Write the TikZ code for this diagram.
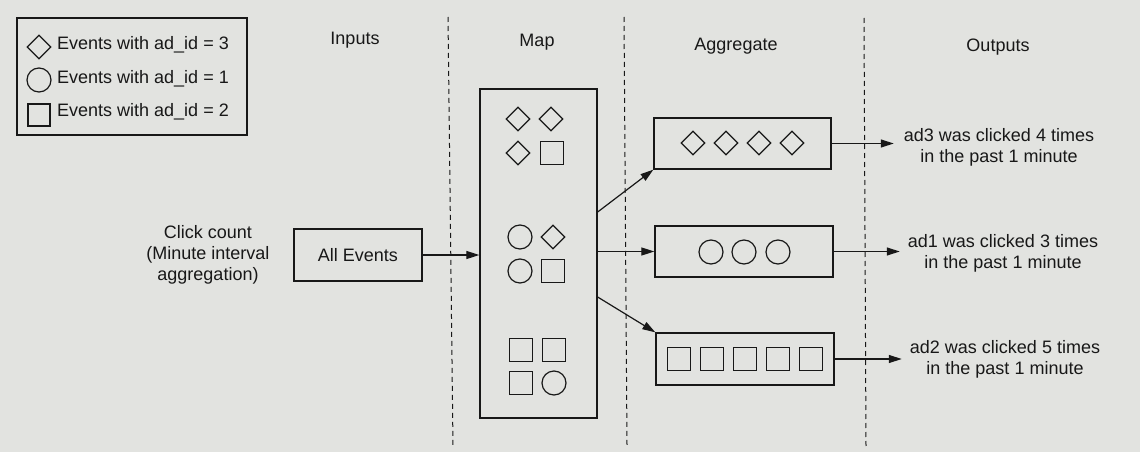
\documentclass[tikz,border=0pt]{standalone}
\usepackage{fontspec}
\setmainfont{Liberation Sans}
\usetikzlibrary{shapes.geometric,arrows.meta}
\definecolor{paper}{RGB}{226,227,224}
\definecolor{ink}{RGB}{24,24,24}
\begin{document}
\begin{tikzpicture}[x=1pt,y=-1pt,
  every node/.style={font=\fontsize{18}{21}\selectfont, text=ink},
  dia/.style={draw=ink, diamond, minimum width=24pt, minimum height=24pt, inner sep=0pt, line width=1.2pt},
  circ/.style={draw=ink, circle, minimum size=24pt, inner sep=0pt, line width=1.2pt},
  sq/.style={draw=ink, rectangle, minimum size=23pt, inner sep=0pt, line width=1.2pt},
  box/.style={draw=ink, rectangle, line width=1.3pt, inner sep=0pt},
  arr/.style={draw=ink, line width=1.2pt, -{Triangle[length=13pt,width=8pt]}},
  sep/.style={draw=ink, line width=1pt, dash pattern=on 5pt off 4pt},
  lbl/.style={align=center, inner sep=0pt}
]
\useasboundingbox (0,0) rectangle (1140,452);
\fill[paper] (0,0) rectangle (1140,452);

% dashed separators
\coordinate (d1t) at (448,17);  \coordinate (d1b) at (453,447);
\coordinate (d2t) at (624,17);  \coordinate (d2b) at (627,445);
\coordinate (d3t) at (864,18);  \coordinate (d3b) at (866,447);
\draw[sep] (d1t) -- (d1b);
\draw[sep] (d2t) -- (d2b);
\draw[sep] (d3t) -- (d3b);

% legend
\node[box, minimum width=230pt, minimum height=117pt] (legend) at (132,76.5) {};
\node[dia] (lgd) at (39,47) {};
\node[circ] (lgc) at (39,80) {};
\node[sq, minimum size=22pt] (lgs) at (39,115) {};
\node[anchor=base west, inner sep=0pt] (lgt1) at (57,50) {Events with ad\_id = 3};
\node[anchor=base west, inner sep=0pt] (lgt2) at (57,83) {Events with ad\_id = 1};
\node[anchor=base west, inner sep=0pt] (lgt3) at (57,116) {Events with ad\_id = 2};

% headers
\node[anchor=base, inner sep=0pt] (hin) at (355,45) {Inputs};
\node[anchor=base, inner sep=0pt] (hmap) at (537,47) {Map};
\node[anchor=base, inner sep=0pt] (hagg) at (736,51) {Aggregate};
\node[anchor=base, inner sep=0pt] (hout) at (998,52) {Outputs};

% inputs
\node[lbl] (click) at (208,255) {Click count\\(Minute interval\\aggregation)};
\node[box, minimum width=128pt, minimum height=52pt] (allev) at (358,255) {All Events};

% map box
\node[box, minimum width=117pt, minimum height=329pt] (map) at (538.5,253.5) {};
\node[dia] (m1) at (518,119) {};
\node[dia] (m2) at (551,119) {};
\node[dia] (m3) at (518,153) {};
\node[sq]  (m4) at (552,153) {};
\node[circ] (m5) at (520,237) {};
\node[dia] (m6) at (553,237) {};
\node[circ] (m7) at (520,271) {};
\node[sq]  (m8) at (553,271) {};
\node[sq]  (m9) at (521,350) {};
\node[sq]  (m10) at (554,350) {};
\node[sq]  (m11) at (521,383) {};
\node[circ] (m12) at (554,383) {};

% aggregate boxes
\node[box, minimum width=177pt, minimum height=51pt] (agg1) at (742.5,143.5) {};
\node[dia] (a11) at (693,143) {};
\node[dia] (a12) at (726,143) {};
\node[dia] (a13) at (759,143) {};
\node[dia] (a14) at (792,143) {};
\node[box, minimum width=178pt, minimum height=51pt] (agg2) at (744,251.5) {};
\node[circ] (a21) at (711,252) {};
\node[circ] (a22) at (744,252) {};
\node[circ] (a23) at (778,252) {};
\node[box, minimum width=178pt, minimum height=52pt] (agg3) at (745,359) {};
\node[sq] (a31) at (679,359) {};
\node[sq] (a32) at (712,359) {};
\node[sq] (a33) at (745,359) {};
\node[sq] (a34) at (778,359) {};
\node[sq] (a35) at (811,359) {};

% outputs
\node[lbl] (out1) at (999,147) {ad3 was clicked 4 times\\in the past 1 minute};
\node[lbl] (out2) at (1003,253) {ad1 was clicked 3 times\\in the past 1 minute};
\node[lbl] (out3) at (1005,359) {ad2 was clicked 5 times\\in the past 1 minute};

% connectors
\draw[arr] (allev.east) -- (allev.east -| map.west);
\draw[arr] ([yshift=41.5pt]map.east) -- (agg1.south west);
\draw[arr] (agg2.west -| map.east) -- (agg2.west);
\draw[arr] ([yshift=-43.5pt]map.east) -- (agg3.north west);
\draw[arr, shorten >=10pt] (agg1.east) -- (agg1.east -| out1.west);
\draw[arr, shorten >=8pt] (agg2.east) -- (agg2.east -| out2.west);
\draw[arr, shorten >=8pt] (agg3.east) -- (agg3.east -| out3.west);
\end{tikzpicture}
\end{document}
